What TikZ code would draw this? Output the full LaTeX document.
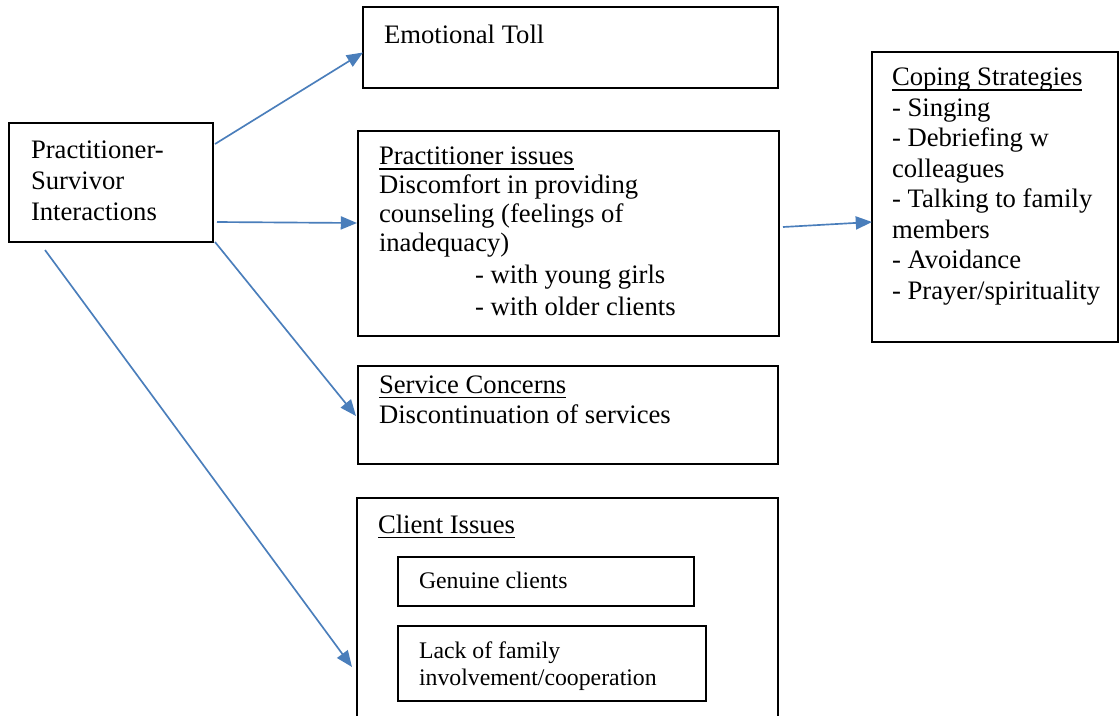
\documentclass[tikz,border=0pt]{standalone}
\usepackage{fontspec}
\setmainfont{Liberation Serif}
\usetikzlibrary{arrows.meta,calc}
\definecolor{arrowblue}{HTML}{4A7EBB}
\newcommand\myul[1]{\setbox0\hbox{#1}\rlap{\rule[-2.2pt]{\wd0}{0.6pt}}\box0}
\tikzset{
  boxnode/.style 2 args={draw=black, line width=0.85pt, rectangle, inner sep=0pt, outer sep=0pt,
    minimum width=#1*0.45pt, minimum height=#2*0.45pt},
  txt/.style={anchor=base west, inner sep=0pt, outer sep=0pt, align=left,
    font=\fontsize{12}{13.7}\selectfont},
  smalltxt/.style={anchor=base west, inner sep=0pt, outer sep=0pt, align=left,
    font=\fontsize{10.7}{12.15}\selectfont},
  link/.style={draw=arrowblue, line width=0.75pt, -{Triangle[length=7.3pt,width=5.9pt]}}
}
\begin{document}
\begin{tikzpicture}[x=0.45pt,y=-0.45pt]
\clip (0,0) rectangle (1119,715);
\useasboundingbox (0,0) rectangle (1119,715);
\fill[white] (0,0) rectangle (1119,715);
% boxes
\node[boxnode={415}{81}] (et) at (570.5,47.5) {};
\node[boxnode={204}{119}] (ps) at (111,182.5) {};
\node[boxnode={421}{205}] (pi) at (568.5,233.5) {};
\node[boxnode={246}{290}] (cs) at (995,197) {};
\node[boxnode={420}{98}] (sc) at (568,415) {};
\node[boxnode={421}{242}] (ci) at (567.5,619) {};
\node[boxnode={296}{49}] (gc) at (546,581.5) {};
\node[boxnode={308}{75}] (lf) at (552,663.5) {};
% texts (multi-line nodes are placed by the baseline of their last line)
\node[txt] (tet) at (384,43) {Emotional Toll};
\node[txt, font=\fontsize{12}{13.95}\selectfont] (tps) at (31,220) {Practitioner-\\Survivor\\Interactions};
\node[txt, font=\fontsize{12}{13.05}\selectfont] (tpi) at (379,315) {\myul{Practitioner issues}\\Discomfort in providing\\counseling (feelings of\\inadequacy)\\[1.4pt]\hspace*{43.2pt}- with young girls\\[1pt]\hspace*{43.2pt}- with older clients};
\node[txt] (tcs) at (892,299) {\myul{Coping Strategies}\\- Singing\\- Debriefing w\\colleagues\\- Talking to family\\members\\- Avoidance\\- Prayer/spirituality};
\node[txt, font=\fontsize{12}{13.5}\selectfont] (tsc) at (379,423) {\myul{Service Concerns}\\Discontinuation of services};
\node[txt] (tci) at (378,533) {\myul{Client Issues}};
\node[smalltxt] (tgc) at (419,588) {Genuine clients};
\node[smalltxt] (tlf) at (419,685) {Lack of family\\involvement/cooperation};
% connectors
\draw[link] ($(ps.north east)+(2,21)$) -- ($(et.west)+(0,5)$);
\draw[link] ($(ps.east)+(4,39.5)$) -- ($(pi.west)+(-1,-10.5)$);
\draw[link] ($(ps.south east)+(2,0)$) -- ($(sc.west)+(-2,1)$);
\draw[link] ($(ps.south west)+(36,8)$) -- ($(ci.west)+(-5,48)$);
\draw[link] ($(pi.east)+(4,-6.5)$) -- ($(cs.west)+(0,25)$);
\end{tikzpicture}
\end{document}
